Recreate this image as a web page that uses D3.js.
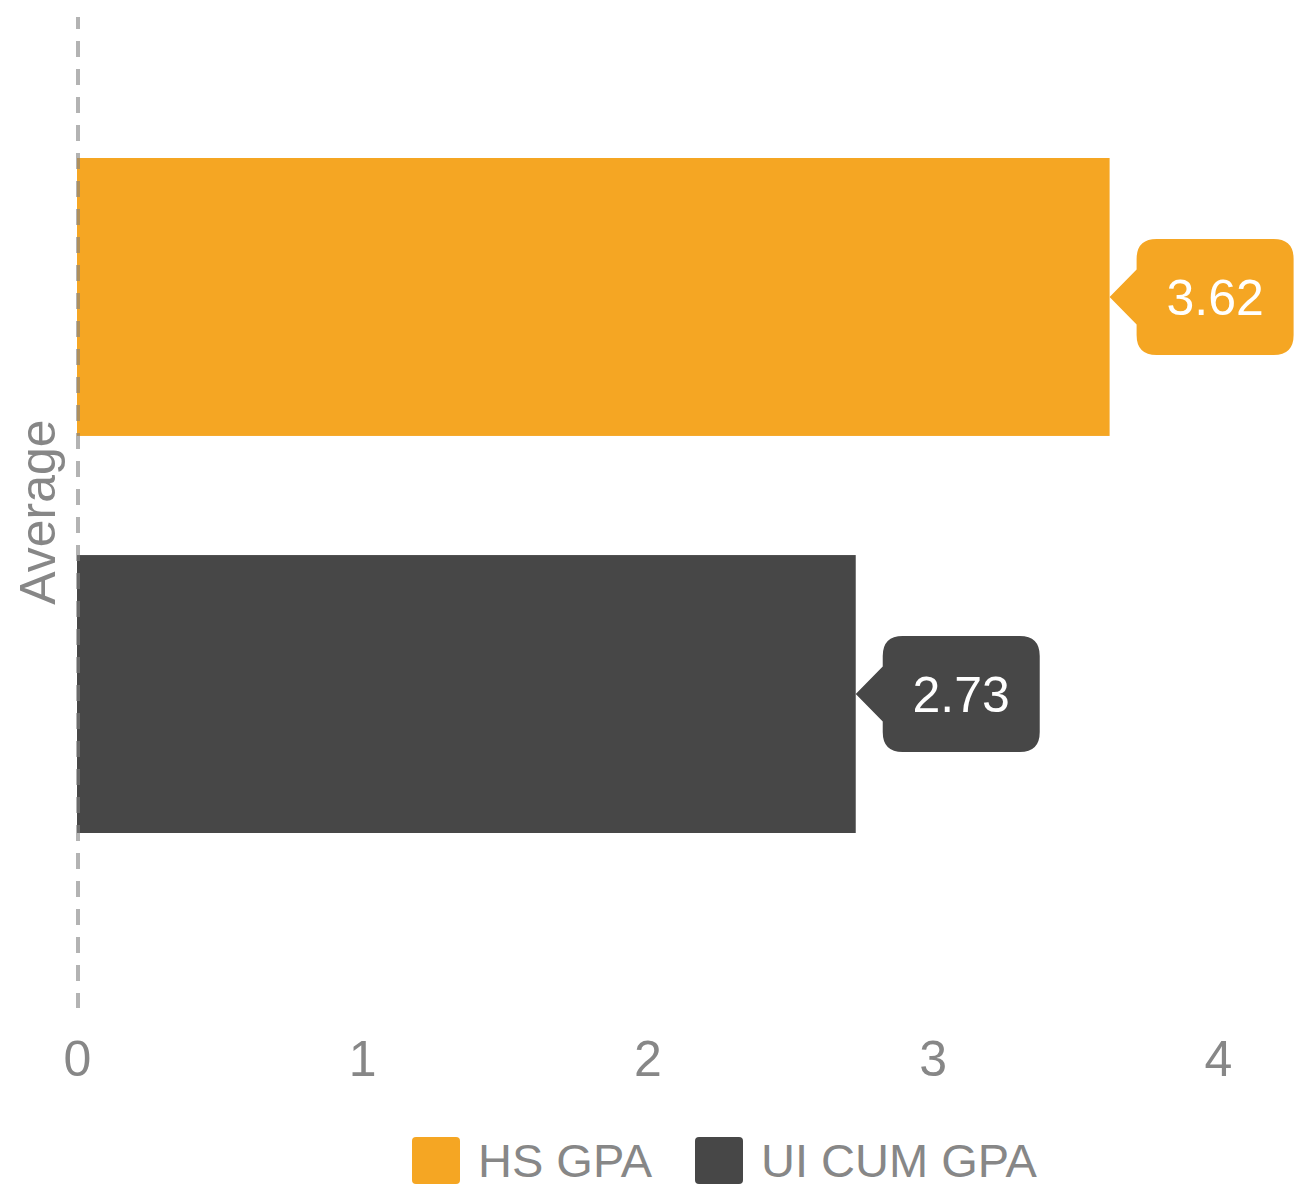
<!DOCTYPE html>
<html>
<head>
<meta charset="utf-8">
<script src="https://cdn.jsdelivr.net/npm/d3@7"></script>
<style>
  html, body { margin: 0; padding: 0; background: #fff; }
  svg { display: block; font-family: "Liberation Sans", Arial, sans-serif; }
</style>
</head>
<body>
<svg id="chart" width="1312" height="1186"></svg>
<script>
const category = "Average";
const seriesNames = ["HS GPA", "UI CUM GPA"];
const seriesValues = [3.62, 2.73];
const seriesColors = ["#f5a623", "#474747"];
const xTicks = [0, 1, 2, 3, 4];

const svg = d3.select("#chart");
const textColor = "#878787";

const x = d3.scaleLinear().domain([0, 4]).range([77, 1218]);
const y = d3.scaleBand().domain(seriesNames).range([158, 833]).paddingInner(0.3).paddingOuter(0);

const plotTop = 17, plotBottom = 1008;

// bars
svg.append("g").selectAll("rect")
  .data(seriesNames)
  .join("rect")
  .attr("x", x(0))
  .attr("y", d => y(d))
  .attr("width", (d, i) => x(seriesValues[i]) - x(0))
  .attr("height", y.bandwidth())
  .attr("fill", (d, i) => seriesColors[i]);

// dashed zero line (drawn over bars)
svg.append("line")
  .attr("x1", x(0) + 1).attr("x2", x(0) + 1)
  .attr("y1", plotTop).attr("y2", plotBottom)
  .attr("stroke", "rgba(128,128,128,0.6)")
  .attr("stroke-width", 4)
  .attr("stroke-dasharray", "16,12")
  .attr("stroke-dashoffset", 4);

// x axis tick labels
const xAxis = d3.axisBottom(x).tickValues(xTicks).tickSize(0).tickFormat(d3.format("d"));
const gx = svg.append("g").attr("transform", `translate(0, ${plotBottom})`).call(xAxis);
gx.select(".domain").remove();
gx.selectAll("text")
  .attr("y", 68).attr("dy", null)
  .attr("fill", textColor)
  .style("font-size", "50px")
  .style("font-family", "'Liberation Sans', Arial, sans-serif");

// category label
svg.append("text")
  .attr("transform", `translate(55, 512) rotate(-90)`)
  .attr("text-anchor", "middle")
  .attr("fill", textColor)
  .style("font-size", "50px")
  .text(category);

// callouts
const cw = 157, ch = 116, gap = 27, r = 20, ah = 27.5;
function calloutPath(tx, cy) {
  const l = tx + gap, rr = l + cw, t = cy - ch / 2, b = cy + ch / 2;
  return `M${tx},${cy} L${l},${cy - ah} L${l},${t + r} Q${l},${t} ${l + r},${t}` +
    ` L${rr - r},${t} Q${rr},${t} ${rr},${t + r} L${rr},${b - r} Q${rr},${b} ${rr - r},${b}` +
    ` L${l + r},${b} Q${l},${b} ${l},${b - r} L${l},${cy + ah} Z`;
}
const cg = svg.append("g").selectAll("g")
  .data(seriesNames)
  .join("g");
cg.append("path")
  .attr("d", (d, i) => calloutPath(x(seriesValues[i]), y(d) + y.bandwidth() / 2))
  .attr("fill", (d, i) => seriesColors[i]);
cg.append("text")
  .attr("x", (d, i) => x(seriesValues[i]) + gap + cw / 2)
  .attr("y", d => y(d) + y.bandwidth() / 2 + 18)
  .attr("text-anchor", "middle")
  .attr("fill", "#ffffff")
  .style("font-size", "50px")
  .text((d, i) => d3.format(".2f")(seriesValues[i]));

// legend
const legendX = [412, 695];
const lg = svg.append("g").selectAll("g")
  .data(seriesNames)
  .join("g")
  .attr("transform", (d, i) => `translate(${legendX[i]}, 1137)`);
lg.append("rect")
  .attr("width", 48).attr("height", 47).attr("rx", 4)
  .attr("fill", (d, i) => seriesColors[i]);
lg.append("text")
  .attr("x", 66).attr("y", 40)
  .attr("fill", textColor)
  .style("font-size", "47px")
  .text(d => d);
</script>
</body>
</html>
